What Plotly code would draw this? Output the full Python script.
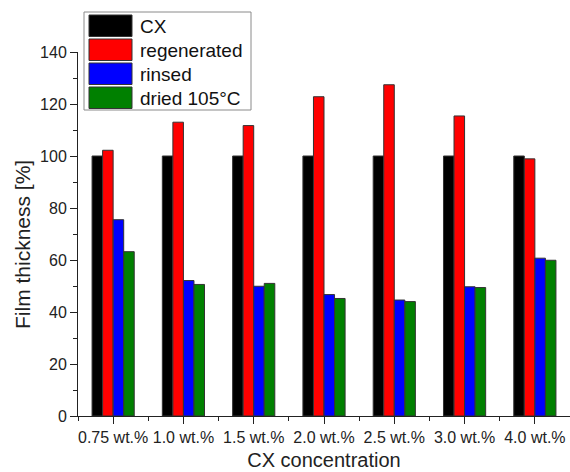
import plotly.graph_objects as go

# Film thickness relative to the initial CX film, per CX concentration
categories = ["0.75 wt.%", "1.0 wt.%", "1.5 wt.%", "2.0 wt.%", "2.5 wt.%", "3.0 wt.%", "4.0 wt.%"]
cx = [100, 100, 100, 100, 100, 100, 100]
regenerated = [102.2, 113.0, 111.7, 122.8, 127.4, 115.4, 98.9]
rinsed = [75.5, 52.1, 49.9, 46.7, 44.6, 49.7, 60.7]
dried_105 = [63.2, 50.6, 51.0, 45.2, 44.0, 49.4, 59.9]

series_names = ["CX", "regenerated", "rinsed", "dried 105°C"]
series_values = [cx, regenerated, rinsed, dried_105]
series_colors = ["#000000", "#ff0000", "#0000ff", "#008000"]

W, H = 570, 472
ML, MR, MT, MB = 78, 0, 52, 56
PW, PH = W - ML - MR, H - MT - MB

x_pos = list(range(len(categories)))

fig = go.Figure()
for name, vals, col in zip(series_names, series_values, series_colors):
    fig.add_trace(go.Bar(
        x=x_pos, y=vals, name=name,
        marker=dict(color=col, line=dict(color="#333333", width=1)),
        showlegend=False,
    ))


def px_x(p):
    return (p - ML) / PW


def px_y(p):
    return (H - MB - p) / PH


# Legend box with large colour swatches
shapes = [dict(type="rect", xref="paper", yref="paper",
               x0=px_x(84), x1=px_x(251), y0=px_y(110), y1=px_y(12),
               line=dict(color="#8a8a8a", width=1), fillcolor="white", layer="above")]
annotations = []
row_top = 15
for i, (name, col) in enumerate(zip(series_names, series_colors)):
    t = row_top + i * 24
    shapes.append(dict(type="rect", xref="paper", yref="paper",
                       x0=px_x(89), x1=px_x(132), y0=px_y(t + 21.5), y1=px_y(t),
                       line=dict(color="#333333", width=1), fillcolor=col, layer="above"))
    annotations.append(dict(xref="paper", yref="paper", x=px_x(138), y=px_y(t + 11),
                            xanchor="left", yanchor="middle", showarrow=False,
                            text=name, font=dict(size=19, color="#111111")))

# Y axis title, placed slightly below the plot-area centre
annotations.append(dict(xref="paper", yref="paper", x=px_x(22), y=px_y(245),
                        xanchor="center", yanchor="middle", showarrow=False,
                        textangle=-90, text="Film thickness [%]",
                        font=dict(size=21, color="#222222")))

fig.update_layout(
    width=W, height=H,
    margin=dict(l=ML, r=MR, t=MT, b=MB, pad=0),
    paper_bgcolor="white", plot_bgcolor="white",
    barmode="group", bargap=0.4, bargroupgap=0,
    font=dict(family="Liberation Sans, Arial, sans-serif", color="#222222", size=16),
    shapes=shapes, annotations=annotations,
)

fig.update_xaxes(
    range=[-0.5, 6.5],
    tickmode="array", tickvals=x_pos, ticktext=categories,
    ticks="outside", ticklen=7, tickwidth=1, tickcolor="#222222",
    showline=True, linecolor="#222222", linewidth=1,
    showgrid=False, zeroline=False,
    tickfont=dict(size=16),
    minor=dict(tickmode="linear", tick0=0.5, dtick=1, ticks="outside",
               ticklen=4, tickcolor="#222222", showgrid=False),
    title=dict(text="CX concentration", font=dict(size=20), standoff=7),
)
fig.update_yaxes(
    range=[0, 140],
    tickmode="linear", tick0=0, dtick=20,
    ticks="outside", ticklen=7, tickwidth=1, tickcolor="#222222",
    showline=True, linecolor="#222222", linewidth=1,
    showgrid=False, zeroline=False,
    tickfont=dict(size=16),
    minor=dict(tickmode="linear", tick0=0, dtick=10, ticks="outside",
               ticklen=4, tickcolor="#222222", showgrid=False),
)

fig.write_html("out.html")
